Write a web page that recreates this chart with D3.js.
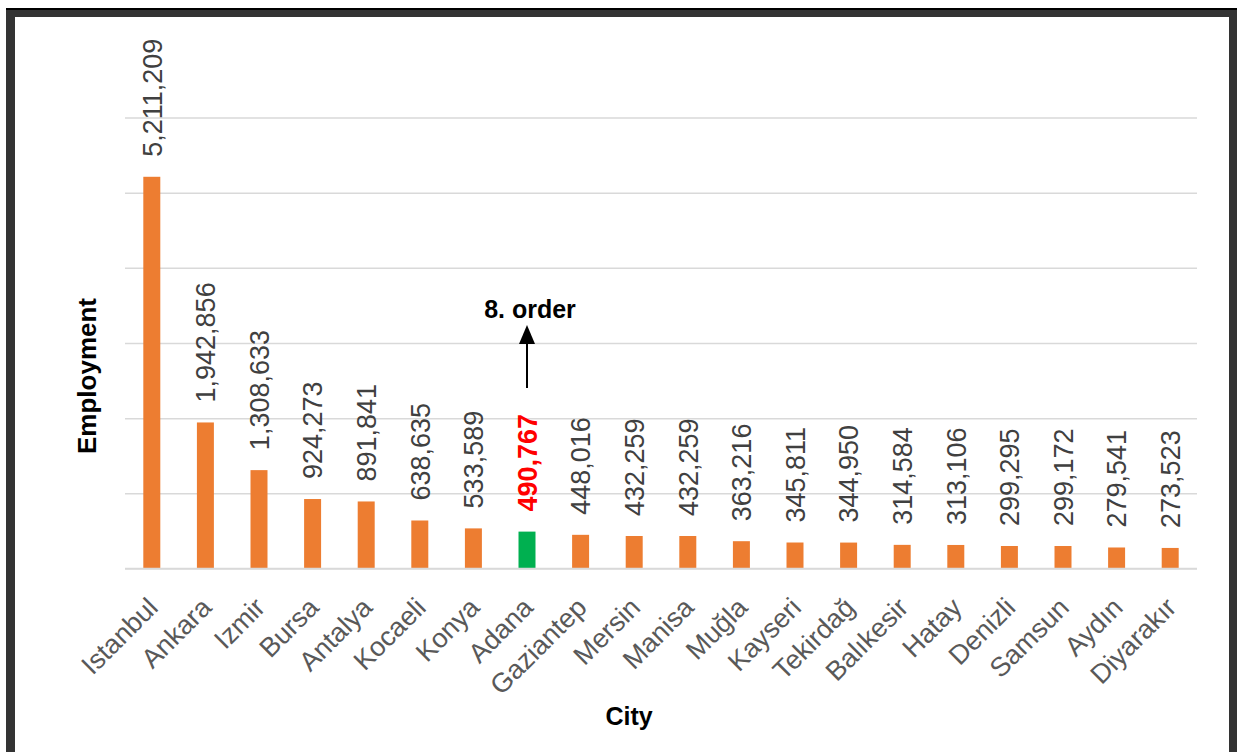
<!DOCTYPE html>
<html>
<head>
<meta charset="utf-8">
<script src="https://cdn.jsdelivr.net/npm/d3@7"></script>
<style>
  html, body { margin: 0; padding: 0; background: #ffffff; }
  svg { display: block; }
</style>
</head>
<body>
<svg id="chart" width="1237" height="752"></svg>
<script>
// Employment by city (top 20 provinces)
const cities = ["Istanbul", "Ankara", "Izmir", "Bursa", "Antalya", "Kocaeli", "Konya", "Adana",
  "Gaziantep", "Mersin", "Manisa", "Muğla", "Kayseri", "Tekirdağ", "Balıkesir", "Hatay",
  "Denizli", "Samsun", "Aydın", "Diyarakır"];
const employment = [5211209, 1942856, 1308633, 924273, 891841, 638635, 533589, 490767,
  448016, 432259, 432259, 363216, 345811, 344950, 314584, 313106,
  299295, 299172, 279541, 273523];
const gridTicks = [0, 1000000, 2000000, 3000000, 4000000, 5000000, 6000000];
const highlightCity = "Adana";
const annotationText = "8. order";

const svg = d3.select("#chart");
const W = 1237, H = 752;

// frame around the chart
svg.append("rect").attr("x", 0).attr("y", 0).attr("width", W).attr("height", H).attr("fill", "#ffffff");
svg.append("rect").attr("x", 6).attr("y", 8).attr("width", 9).attr("height", H - 8).attr("fill", "#333333");
svg.append("rect").attr("x", 1229).attr("y", 8).attr("width", 8).attr("height", H - 8).attr("fill", "#333333");
svg.append("rect").attr("x", 6).attr("y", 8).attr("width", W - 6).attr("height", 9).attr("fill", "#333333");
svg.append("rect").attr("x", 6).attr("y", 8).attr("width", W - 6).attr("height", 2).attr("fill", "#000000");

const x = d3.scaleBand().domain(cities).range([125, 1197]).paddingInner(0.683).paddingOuter(0.3415);
const y = d3.scaleLinear().domain([0, 6000000]).range([568.5, 117.5]);

// horizontal gridlines
const gridAxis = d3.axisLeft(y).tickValues(gridTicks).tickSize(-(1197 - 125)).tickFormat("");
const gGrid = svg.append("g").attr("transform", "translate(125,0)").call(gridAxis);
gGrid.select(".domain").remove();
gGrid.selectAll(".tick line").attr("stroke", "#d9d9d9").attr("stroke-width", 1.5);

const data = cities.map((c, i) => ({ city: c, value: employment[i] }));

// bars
svg.append("g").selectAll("rect").data(data).join("rect")
  .attr("x", d => x(d.city))
  .attr("width", x.bandwidth())
  .attr("y", d => y(d.value))
  .attr("height", d => y(0) - y(d.value))
  .attr("fill", d => d.city === highlightCity ? "#00b050" : "#ed7d31");

// value labels, rotated
const fmt = d3.format(",");
svg.append("g").selectAll("text").data(data).join("text")
  .attr("transform", d => `translate(${x(d.city) + x.bandwidth() / 2},${y(d.value) - 20}) rotate(-90)`)
  .attr("dy", "0.36em")
  .attr("text-anchor", "start")
  .attr("font-family", "'Liberation Sans', Arial, sans-serif")
  .attr("font-size", 27)
  .attr("font-weight", d => d.city === highlightCity ? "bold" : "normal")
  .attr("fill", d => d.city === highlightCity ? "#ff0000" : "#404040")
  .text(d => fmt(d.value));

// category axis
const xAxis = d3.axisBottom(x).tickSize(0).tickPadding(0);
const gX = svg.append("g").attr("transform", "translate(0,568.5)").call(xAxis);
gX.select(".domain").attr("stroke", "#d9d9d9").attr("stroke-width", 1.5).attr("d", "M125,0H1197");
gX.selectAll(".tick text")
  .attr("font-family", "'Liberation Sans', Arial, sans-serif")
  .attr("font-size", 27)
  .attr("fill", "#595959")
  .attr("text-anchor", "end")
  .attr("y", 0).attr("dy", "0.35em")
  .attr("transform", "translate(1,34) rotate(-45)");

// axis titles
svg.append("text")
  .attr("transform", "translate(96,376) rotate(-90)")
  .attr("text-anchor", "middle")
  .attr("font-family", "'Liberation Sans', Arial, sans-serif")
  .attr("font-size", 26).attr("font-weight", "bold").attr("fill", "#000")
  .text("Employment");
svg.append("text")
  .attr("x", 629).attr("y", 725)
  .attr("text-anchor", "middle")
  .attr("font-family", "'Liberation Sans', Arial, sans-serif")
  .attr("font-size", 25).attr("font-weight", "bold").attr("fill", "#000")
  .text("City");

// annotation arrow over the highlighted city
const ax = x(highlightCity) + x.bandwidth() / 2;
const ann = svg.append("g");
ann.append("line").attr("x1", ax).attr("x2", ax).attr("y1", 388).attr("y2", 340)
  .attr("stroke", "#000").attr("stroke-width", 2);
ann.append("path").attr("d", `M${ax},325L${ax - 8},344L${ax + 8},344Z`).attr("fill", "#000");
ann.append("text")
  .attr("x", ax + 3).attr("y", 318)
  .attr("text-anchor", "middle")
  .attr("font-family", "'Liberation Sans', Arial, sans-serif")
  .attr("font-size", 25).attr("font-weight", "bold").attr("fill", "#000")
  .text(annotationText);
</script>
</body>
</html>
